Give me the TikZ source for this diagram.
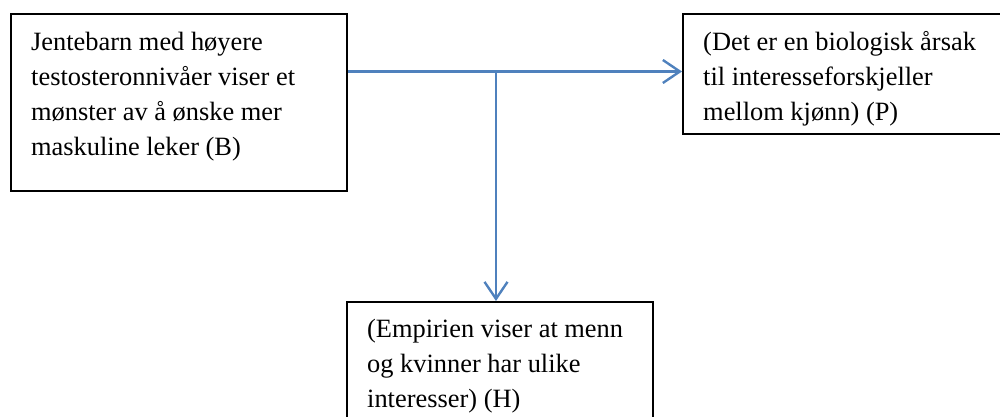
\documentclass[tikz,border=0pt]{standalone}
\usepackage{fontspec}
\setmainfont{Liberation Serif}
\usetikzlibrary{arrows.meta}
\definecolor{lnblue}{RGB}{79,129,189}
\tikzset{
  box/.style={draw=black, line width=2pt, inner sep=0pt, anchor=north west},
  txt/.style={inner sep=0pt, anchor=north west, align=left,
    font=\fontsize{26.4pt}{35pt}\selectfont},
  conn/.style={draw=lnblue, line width=2.4pt,
    -{Straight Barb[length=17pt, width=23pt, line width=2.4pt]}},
}
\begin{document}
\begin{tikzpicture}[x=1pt, y=-1pt]
\useasboundingbox (0,0) rectangle (1000,417);
\node[box, minimum width=336pt, minimum height=177pt] (b) at (10,13) {};
\node[box, minimum width=340pt, minimum height=120pt] (p) at (682,13) {};
\node[box, minimum width=306pt, minimum height=130pt] (h) at (346,301) {};
\node[txt] (bt) at (31,32) {Jentebarn med høyere\\testosteronnivåer viser et\\mønster av å ønske mer\\maskuline leker (B)};
\node[txt] (pt) at (703,31) {(Det er en biologisk årsak\\til interesseforskjeller\\mellom kjønn) (P)};
\node[txt] (ht) at (367,319) {(Empirien viser at menn\\og kvinner har ulike\\interesser) (H)};
\coordinate (j) at (496,71.5);
\draw[conn] (b.east |- j) -- (p.west |- j);
\draw[conn] (j) -- (j |- h.north);
\end{tikzpicture}
\end{document}
